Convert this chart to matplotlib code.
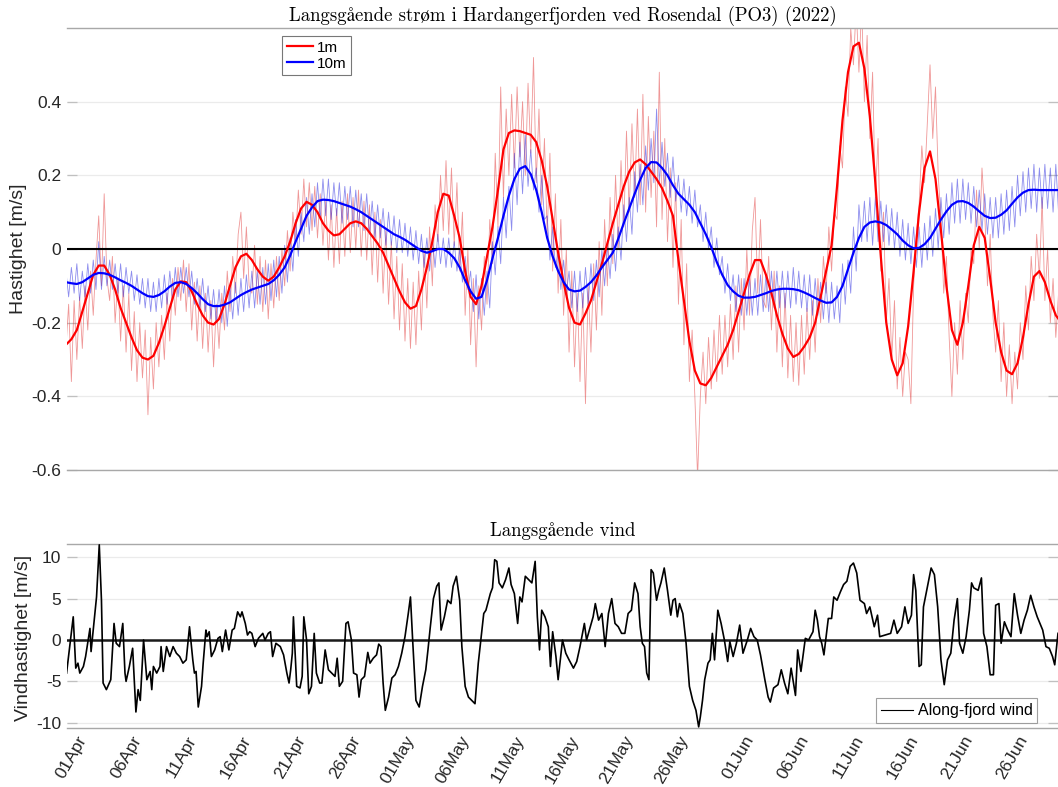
import numpy as np
import matplotlib
matplotlib.use("Agg")
import matplotlib.pyplot as plt
from matplotlib.lines import Line2D

plt.rcParams['font.family'] = ['Liberation Sans', 'DejaVu Sans']
plt.rcParams['axes.unicode_minus'] = False

# ---------------- data ----------------
tick_days = [0, 5, 10, 15, 20, 25, 30, 35, 40, 45, 50, 55, 61, 66, 71, 76, 81, 86]
tick_labels = ["01Apr", "06Apr", "11Apr", "16Apr", "21Apr", "26Apr", "01May", "06May",
               "11May", "16May", "21May", "26May", "01Jun", "06Jun", "11Jun", "16Jun",
               "21Jun", "26Jun"]

cur_yticks = [-0.6, -0.4, -0.2, 0, 0.2, 0.4]
cur_yticklabels = ["-0.6", "-0.4", "-0.2", "0", "0.2", "0.4"]
wind_yticks = [-10, -5, 0, 5, 10]

# smoothed 1 m current, cm/s, every 0.5 day from day -1
red_smooth_start, red_smooth_step = -1.0, 0.5
red_smooth = [-26, -24.5, -22, -17, -12, -7, -4.5, -4.5, -7, -11, -16, -20, -24, -27.5, -29.5, -30,
              -29, -25.5, -21, -16, -11, -8.8, -9, -11.5, -15, -18, -20, -20.5, -19, -15, -10, -5,
              -2, -1.3, -3, -5.5, -7.5, -8.6, -7.5, -5, -2, 2, 7, 11, 12.8, 12, 10, 7,
              5, 3.7, 4, 5.5, 7, 7.5, 7, 5.5, 3.5, 1.5, -1, -4.5, -8, -11.5, -14.5, -16.2,
              -15.5, -11, -5, 2, 10, 15, 14.5, 9, 3, -6, -13, -15, -10, -2, 6, 16,
              27, 31.5, 32.2, 32, 31.5, 31, 29, 24, 17, 8, -1, -9, -16, -20, -20.5, -17.5,
              -14, -9, -4, 1.5, 7, 12, 17, 21, 23.5, 24.3, 23, 21, 19, 16.5, 13, 9,
              -3, -14, -25, -33, -36.5, -37, -35, -32, -29, -26, -22, -17, -12, -7, -3, -3,
              -7, -12, -18, -23, -27, -29.3, -28.5, -26.5, -24, -20, -13, -6, 1, 17, 35, 48,
              55, 56, 49, 36, 18, -2, -20, -30, -34.3, -31, -21, -6, 10, 22, 26.5, 19,
              5, -10, -22, -26, -20, -10, 1, 6, 3, -8, -20, -28, -33, -34, -31, -24,
              -15, -7.5, -6, -9, -14, -18, -20]

# smoothed 10 m current, cm/s, every 0.5 day from day -1
blue_smooth_start, blue_smooth_step = -1.0, 0.5
blue_smooth = [-9, -9.3, -9.5, -9, -8, -7, -6.5, -6.6, -7, -7.7, -8.5, -9.2, -10, -11, -12, -12.8,
               -13, -12.5, -11.5, -10.2, -9.2, -9, -9.5, -10.6, -12, -13.6, -15, -15.5, -15.5, -15.1, -14.5, -13.5,
               -12.5, -11.7, -11, -10.5, -10, -9.5, -8.5, -7, -5, -1.8, 2, 5.5, 9, 11.3, 13, 13.4,
               13.3, 13, 12.5, 12, 11.5, 10.8, 10, 9, 8, 7, 6, 5, 4, 3.3, 2.5, 1.5,
               0.5, -0.5, -1, -0.6, 0, 0, -1, -2.5, -5, -8.5, -11.5, -13.5, -13, -8.5, -2.5, 3,
               9, 14.5, 19, 21.8, 22.5, 20.3, 16, 10, 3, -2, -6, -9, -11, -11.5, -11.3, -10.3,
               -9, -7.2, -5, -3, -1, 2.8, 7, 11, 15, 18.8, 22, 23.6, 23.5, 22, 20, 17.3,
               15, 13.5, 12, 10, 7, 4, 0.5, -3.5, -7, -9.8, -11.5, -12.7, -13.2, -13.2, -13, -12.5,
               -12, -11.4, -11, -10.8, -10.8, -10.9, -11.2, -11.8, -12.5, -13.3, -14, -14.6, -14.5, -13, -10, -5.5,
               -1, 3, 6, 7.2, 7.5, 7.2, 6.5, 5.3, 4, 2.3, 1, 0.2, 0.3, 1.3, 3, 5.5,
               8, 10.2, 12, 12.9, 13, 12.5, 11.5, 10.2, 9, 8.4, 8.5, 9.3, 10.5, 12.3, 14, 15.3,
               16, 16.1, 16, 16, 16, 16, 16]

# raw 1 m current, cm/s, every 6 hours from day -1
raw_start, raw_step = -1.0, 0.25
red_raw = [-27, -15, -36, -14,  -30, -13, -27, -10,  -22, -6, -18, -3,  9, -10, 15, -8,
           -14, -2, -20, -8,  -25, -10, -28, -12,  -33, -17, -36, -20,  -35, -22, -45, -24,
           -38, -20, -32, -18,  -30, -12, -25, -8,  -18, -5, -14, -3,  -17, -4, -22, -9,
           -25, -10, -27, -12,  -28, -14, -32, -15,  -27, -12, -22, -6,  -17, -2, -12, 4,
           10, -8, 6, -10,  -12, 1, -15, -2,  -17, -3, -19, -4,  -16, -2, -14, 0,
           -10, 5, -6, 10,  2, 16, 4, 19,  6, 18, 5, 17,  3, 15, 1, 13,
           -3, 12, -5, 11,  -4, 13, -2, 15,  -1, 14, 0, 16,  -2, 13, -3, 12,
           -7, 10, -9, 8,  -12, 5, -15, 2,  -19, -2, -22, -4,  -25, -8, -27, -9,
           -26, -6, -22, 0,  -16, 6, -10, 12,  2, 20, 5, 24,  4, 22, 1, 18,
           -6, 10, -18, 0,  -26, -8, -32, -10,  -22, -2, -15, 8,  -4, 26, 6, 44,
           14, 38, 20, 42,  22, 44, 25, 40,  20, 45, 26, 52,  18, 38, 12, 30,
           4, 26, -6, 15,  -12, 8, -18, 0,  -28, -6, -32, -12,  -36, -12, -42, -10,
           -28, -4, -22, 2,  -18, 8, -10, 14,  -4, 20, 0, 24,  6, 32, 10, 34,
           14, 38, 12, 42,  10, 36, 14, 32,  6, 48, 8, 30,  2, 22, -5, 18,
           -15, 8, -26, -4,  -36, -22, -40, -62,  -40, -28, -42, -24,  -38, -22, -36, -18,
           -34, -18, -32, -15,  -30, -10, -28, -8,  -22, 0, -18, 5,  14, -12, 8, -14,
           -16, -2, -22, -6,  -28, -10, -32, -12,  -35, -18, -36, -20,  -37, -18, -34, -16,
           -30, -14, -28, -8,  -20, -2, -12, 6,  -6, 10, 8, 28,  22, 44, 36, 60,
           50, 66, 48, 66,  40, 58, 30, 48,  14, 30, -6, 10,  -20, -8, -30, -14,
           -38, -24, -40, -28,  -30, -42, -10, 4,  12, 28, 18, 34,  50, 30, 44, 20,
           8, -12, -2, -24,  -40, -20, -34, -14,  -30, -12, -20, 0,  -4, 16, 0, 22,
           10, -10, 4, -18,  -28, -14, -36, -20,  -40, -26, -42, -28,  -38, -20, -30, -10,
           -22, -2, -14, 4,  -8, 14, -14, 0,  -20, -8, -24, -12]

# raw 10 m current, cm/s, every 6 hours from day -1
blue_raw = [-6, -13, -5, -12,  -4, -14, -6, -13,  -4, -12, -3, -11,  2, -11, -2, -10,
            -3, -11, -4, -12,  -4, -13, -5, -12,  -6, -14, -7, -15,  -8, -16, -8, -17,
            -9, -17, -8, -16,  -7, -15, -6, -14,  -5, -13, -5, -12,  -5, -13, -6, -15,
            -8, -16, -8, -17,  -10, -19, -11, -20,  -11, -20, -10, -21,  -10, -19, -9, -18,
            -8, -17, -7, -16,  -6, -16, -6, -15,  -5, -15, -4, -14,  -3, -13, -2, -12,
            1, -9, 3, -6,  8, -2, 10, 2,  14, 4, 15, 6,  18, 8, 19, 9,
            19, 8, 18, 9,  18, 7, 17, 8,  17, 6, 16, 6,  15, 5, 15, 4,
            13, 3, 12, 3,  11, 1, 10, 1,  9, -1, 8, -1,  7, -2, 6, -3,
            5, -4, 4, -5,  3, -6, 3, -5,  4, -4, 3, -5,  3, -5, 2, -6,
            0, -9, -2, -11,  -6, -17, -7, -19,  -8, -18, -6, -16,  2, -7, 6, -4,
            14, 3, 17, 5,  26, 12, 29, 15,  31, 17, 27, 16,  22, 10, 20, 8,
            9, -3, 6, -5,  -1, -11, -3, -12,  -6, -16, -6, -17,  -6, -16, -5, -15,
            -4, -14, -3, -13,  0, -10, 1, -8,  4, -6, 6, -3,  12, 2, 14, 4,
            21, 10, 23, 12,  28, 16, 30, 18,  38, 18, 29, 17,  26, 14, 25, 13,
            20, 10, 19, 9,  17, 7, 16, 6,  12, 2, 10, 0,  6, -5, 3, -7,
            -2, -12, -4, -14,  -7, -17, -7, -18,  -8, -18, -8, -18,  -8, -18, -7, -17,
            -7, -17, -6, -16,  -6, -16, -6, -16,  -6, -16, -5, -15,  -6, -16, -7, -17,
            -7, -18, -8, -18,  -9, -19, -9, -20,  -9, -19, -10, -20,  -4, -15, -3, -12,
            6, -6, 12, 2,  13, 2, 14, 1,  14, 2, 13, 2,  12, 1, 11, 0,
            10, -2, 8, -3,  7, -4, 6, -5,  6, -5, 7, -3,  9, -2, 11, 0,
            14, 3, 15, 4,  18, 7, 19, 7,  19, 8, 18, 7,  17, 6, 16, 5,
            15, 4, 14, 3,  14, 3, 15, 4,  16, 5, 17, 6,  20, 9, 21, 10,
            22, 11, 23, 10,  22, 11, 23, 11,  22, 10, 23, 10]

# along-fjord wind (day, m/s)
wind_t = [-0.94, -0.33, -0.1, 0.1, 0.27, 0.6, 0.8, 1.2, 1.3, 1.8, 2.05, 2.25, 2.4, 2.7, 3.1, 3.4,
          3.6, 3.9, 4.2, 4.4, 4.5, 4.8, 5.1, 5.4, 5.6, 5.8, 6.1, 6.4, 6.7, 6.85, 7.0, 7.3,
          7.6, 7.7, 7.9, 8.2, 8.5, 8.8, 9.1, 9.4, 9.7, 10.0, 10.3, 10.6, 10.75, 10.9, 11.1, 11.4,
          11.55, 11.8, 11.9, 12.1, 12.3, 12.6, 12.9, 13.1, 13.3, 13.6, 13.9, 14.2, 14.4, 14.7,
          14.95, 15.1, 15.4, 15.6, 15.8, 16.0, 16.3, 16.6, 17.0, 17.2, 17.5, 17.7, 17.9, 18.2,
          18.6, 18.9, 19.2, 19.4, 19.55, 19.7, 19.8, 20.1, 20.4, 20.6, 20.75, 21.0, 21.2, 21.45,
          21.7, 21.9, 22.2, 22.4, 22.7, 23.0, 23.3, 23.6, 23.8, 24.0, 24.3, 24.6, 24.8, 25.1,
          25.3, 25.6, 25.8, 26.0, 26.3, 26.6, 26.8, 27.1, 27.4, 27.6, 27.8, 28.0, 28.2, 28.5,
          28.8, 29.1, 29.4, 29.7, 30.0, 30.3, 30.5, 30.7, 31.0, 31.3, 31.6, 31.9, 32.1, 32.3,
          32.6, 32.9, 33.1, 33.3, 33.6, 33.9, 34.2, 34.4, 34.7, 35.0, 35.2, 35.5, 35.8, 36.1,
          36.4, 36.7, 36.9, 37.2, 37.4, 37.8, 38.0, 38.2, 38.4, 38.6, 38.9, 39.2, 39.5, 39.7,
          40.0, 40.3, 40.5, 40.7, 41.0, 41.3, 41.6, 41.9, 42.1, 42.3, 42.5, 42.8, 43.1, 43.3,
          43.5, 43.8, 44.0, 44.4, 44.7, 45.0, 45.4, 45.7, 46.0, 46.4, 46.6, 46.9, 47.2, 47.4,
          47.7, 48.0, 48.3, 48.6, 48.9, 49.2, 49.5, 49.8, 50.1, 50.4, 50.7, 51.0, 51.3, 51.5,
          51.7, 51.9, 52.1, 52.3, 52.5, 52.7, 53.0, 53.2, 53.4, 53.7, 54.0, 54.3, 54.5, 54.7,
          54.9, 55.1, 55.4, 55.7, 56.0, 56.3, 56.6, 56.85, 57.0, 57.2, 57.4, 57.7, 57.9, 58.1,
          58.3, 58.6, 58.9, 59.2, 59.5, 59.7, 60.0, 60.3, 60.6, 60.9, 61.3, 61.6, 61.9, 62.2,
          62.5, 62.9, 63.2, 63.4, 63.7, 64.1, 64.4, 64.7, 65.0, 65.3, 65.7, 65.9, 66.2, 66.6,
          66.9, 67.3, 67.5, 67.7, 67.9, 68.1, 68.3, 68.7, 69.0, 69.2, 69.5, 69.8, 70.1, 70.4,
          70.7, 71.0, 71.3, 71.6, 72.0, 72.2, 72.5, 72.9, 73.2, 73.4, 74.4, 74.7, 75.0, 75.4,
          75.7, 76.0, 76.3, 76.5, 76.7, 77.0, 77.2, 77.4, 77.7, 78.1, 78.4, 78.7, 79.0, 79.3,
          79.6, 79.9, 80.2, 80.5, 80.7, 81.0, 81.3, 81.6, 81.8, 82.0, 82.4, 82.7, 82.9, 83.2,
          83.5, 83.8, 84.0, 84.3, 84.5, 84.8, 85.1, 85.4, 85.7, 86.0, 86.3, 86.6, 86.9, 87.2,
          87.5, 87.8, 88.3, 88.6, 88.9, 89.2, 89.4, 89.7]
wind_v = [-4.0, 2.8, -3.4, -2.8, -4.0, -3.2, -2.0, 1.4, -1.4, 5.2, 11.5, 4.8, -5.2, -6.0, -4.8, 2.0,
          -0.4, -0.8, 2.0, -4.0, -5.0, -3.2, -1.0, -8.7, -6.0, -7.3, 0.0, -4.8, -3.8, -6.0, -3.2, -4.0,
          -3.2, -0.8, -3.8, -0.8, -2.0, -0.8, -1.6, -2.0, -2.8, -2.4, 1.6, -2.4, -4.0, -3.8, -8.1, -5.6,
          -2.8, 1.2, 0.4, 1.0, -2.0, -1.2, 0.2, 0.4, -1.4, 1.2, -1.2, 1.2, 1.4, 3.4,
          2.8, 3.4, 2.0, 0.6, 1.0, 0.8, -0.8, 0.2, 0.8, 0.0, 0.8, 1.0, -2.0, -0.4,
          -0.8, -1.8, -4.0, -5.2, -3.6, -1.6, 2.8, -5.6, -5.8, -4.4, 2.8, 0.0, -6.5, -5.6,
          0.8, -4.0, -5.2, -5.2, -1.2, -3.6, -4.0, -4.4, -2.2, -5.6, -5.0, 2.0, 2.2, 0.0,
          -4.0, -4.2, -6.9, -4.8, -4.4, -1.5, -2.8, -2.2, -1.8, -0.5, -0.8, -5.2, -8.5, -6.9,
          -4.6, -4.2, -3.2, -1.6, 0.4, 3.2, 5.2, 0.0, -7.3, -8.1, -5.6, -3.6, -1.2, 1.4,
          5.0, 6.5, 6.9, 1.2, 2.8, 4.8, 4.4, 6.5, 7.7, 4.8, -0.8, -5.6, -6.9, -7.3,
          -7.7, -2.8, -0.4, 3.2, 3.6, 5.6, 6.3, 9.7, 9.5, 6.9, 6.3, 7.3, 8.7, 6.7,
          5.6, 2.0, 5.2, 4.6, 7.7, 7.3, 6.9, 9.5, 2.8, -1.2, 3.6, 2.8, 1.6, -3.2,
          1.0, -2.0, -4.8, 0.0, -1.6, -2.4, -3.4, -2.6, -0.8, 2.0, 0.0, 1.4, 2.8, 4.4,
          2.4, 3.2, -0.8, 3.2, 5.0, 2.0, 1.6, 0.8, 0.8, 3.2, 3.6, 6.9, 5.6, 1.6,
          -0.4, -0.8, -4.0, -4.8, 8.5, 8.1, 4.8, 6.0, 6.9, 8.7, 6.0, 3.0, 4.8, 5.0,
          2.8, 4.4, 3.2, -0.4, -5.6, -7.3, -8.5, -10.5, -9.3, -7.3, -4.8, -2.8, -2.4, 0.8,
          -2.4, 3.6, 2.0, 0.0, -2.6, -0.2, -2.0, -0.4, 1.8, -1.6, 0.0, 1.4, 0.4, 0.0,
          -1.8, -4.8, -6.9, -7.5, -5.8, -5.4, -3.6, -5.2, -6.5, -3.4, -6.7, -1.2, -3.8, 0.2,
          0.0, 1.0, 3.6, 2.4, 0.4, -0.4, -1.8, 2.6, 2.6, 5.2, 4.8, 5.8, 6.7, 7.1,
          8.9, 9.3, 8.1, 4.8, 4.4, 3.2, 4.0, 1.6, 3.0, 0.4, 0.8, 2.4, 0.8, 1.6,
          4.0, 2.0, 3.0, 7.9, 6.0, -3.2, -3.0, 4.0, 6.0, 8.7, 7.9, 4.0, -2.4, -5.4,
          -2.4, -1.6, 2.4, 5.0, -0.4, -1.6, 0.4, 3.6, 6.9, 6.3, 6.0, 7.5, 0.8, -0.8,
          -4.2, -4.2, 4.2, 4.4, -0.4, 2.2, 1.2, 0.4, 5.6, 3.0, 0.8, 2.4, 3.6, 5.4,
          4.0, 2.8, 1.2, -0.8, -1.0, -2.0, -3.0, 0.8]

# ---------------- figure ----------------
W, H = 1058, 787
fig = plt.figure(figsize=(W / 100, H / 100), dpi=100)
L = 67 / W
ax1 = fig.add_axes([L, 1 - 470 / H, 991 / W, 442 / H])
ax2 = fig.add_axes([L, 1 - 727.7 / H, 991 / W, 183.7 / H])

xlim = (-0.9, 89.7)
txt = '#262626'
spine_c = '#a8a8a8'
grid_c = '#ebebeb'
serif = ['cmr10', 'STIXGeneral', 'DejaVu Serif']


def series_t(start, step, vals):
    return start + step * np.arange(len(vals))


def style(ax):
    for s in ('left', 'right'):
        ax.spines[s].set_visible(False)
    for s in ('top', 'bottom'):
        ax.spines[s].set_color(spine_c)
        ax.spines[s].set_linewidth(1.0)
    ax.set_xlim(*xlim)
    ax.set_xticks(tick_days)
    ax.yaxis.grid(True, color=grid_c, linewidth=0.9)
    ax.set_axisbelow(True)
    ax.tick_params(axis='y', direction='in', length=7, width=0.9, color='#c0c0c0',
                   right=True, labelsize=12.5, labelcolor=txt, pad=4)
    ax.tick_params(axis='x', length=0, labelsize=12.5, labelcolor=txt)


# --- current panel
rs = np.array(red_smooth) / 100.0
bs = np.array(blue_smooth) / 100.0
rr = np.array(red_raw) / 100.0
br = np.array(blue_raw) / 100.0

ax1.plot(series_t(raw_start, raw_step, rr), rr, color='#e03030', lw=0.6, alpha=0.5, zorder=2)
ax1.plot(series_t(raw_start, raw_step, br), br, color='#3030e0', lw=0.6, alpha=0.55, zorder=2)
ax1.axhline(0, color='black', lw=1.5, zorder=2.5)
l1, = ax1.plot(series_t(red_smooth_start, red_smooth_step, rs), rs, color='#ff0000', lw=1.6,
               zorder=3, label='1m', solid_joinstyle='round')
l2, = ax1.plot(series_t(blue_smooth_start, blue_smooth_step, bs), bs, color='#0000ff', lw=1.6,
               zorder=3, label='10m', solid_joinstyle='round')
style(ax1)
ax1.set_ylim(-0.6, 0.6)
ax1.set_yticks(cur_yticks)
ax1.set_yticklabels(cur_yticklabels)
ax1.set_xticklabels([])
ax1.set_ylabel('Hastighet [m/s]', fontsize=14, color=txt)
ax1.yaxis.set_label_coords(-0.040, 0.5)
ax1.set_title('Langsgående strøm i Hardangerfjorden ved Rosendal (PO3) (2022)',
              family=serif, fontsize=13.5, color='black', pad=5)
leg1 = ax1.legend(handles=[l1, l2], loc='upper left', bbox_to_anchor=(0.217, 0.982),
                  fontsize=11, frameon=True, fancybox=False, handlelength=1.7,
                  handletextpad=0.3, borderpad=0.3, labelspacing=0.15, borderaxespad=0)
leg1.get_frame().set_edgecolor('#555555')
leg1.get_frame().set_linewidth(0.8)

# --- wind panel
ax2.axhline(0, color='#1a1a1a', lw=1.8, zorder=2)
ax2.plot(wind_t, wind_v, color='black', lw=1.2, zorder=3)
style(ax2)
ax2.set_ylim(-10.6, 11.6)
ax2.set_yticks(wind_yticks)
ax2.set_yticklabels([str(v) for v in wind_yticks])
ax2.set_xticklabels(tick_labels, rotation=60, ha='right', rotation_mode='anchor')
ax2.tick_params(axis='x', pad=4)
ax2.set_ylabel('Vindhastighet [m/s]', fontsize=14, color=txt)
ax2.yaxis.set_label_coords(-0.035, 0.49)
ax2.set_title('Langsgående vind', family=serif, fontsize=13.5, color='black', pad=6)
h = Line2D([], [], color='black', lw=0.8)
leg2 = ax2.legend(handles=[h], labels=['Along-fjord wind'], loc='lower right',
                  bbox_to_anchor=(0.979, 0.026), fontsize=11.5, frameon=True, fancybox=False,
                  handlelength=2.0, handletextpad=0.3, borderpad=0.3, borderaxespad=0)
leg2.get_frame().set_edgecolor('#888888')
leg2.get_frame().set_linewidth(0.8)

fig.savefig('out.png', dpi=100)
